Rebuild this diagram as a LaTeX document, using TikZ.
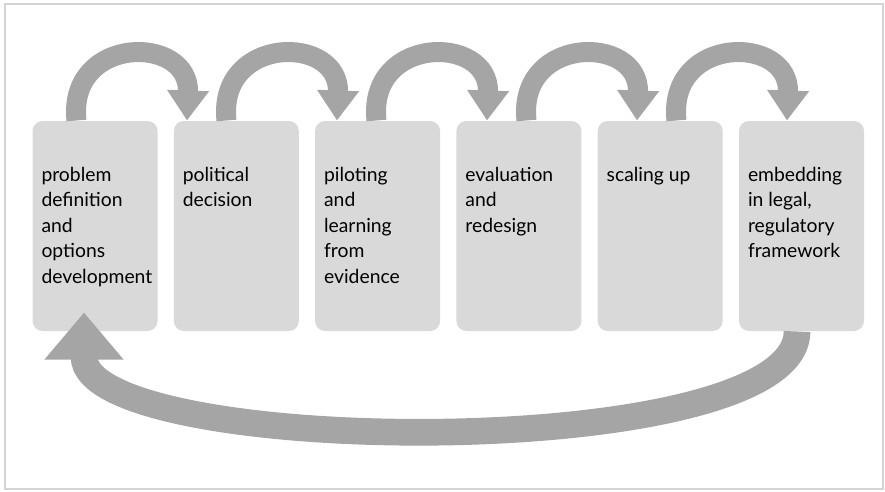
\documentclass[tikz,border=0pt]{standalone}
\usepackage{fontspec}
\setmainfont{Lato}
\usetikzlibrary{arrows.meta,calc}

\definecolor{framegray}{RGB}{212,212,212}
\definecolor{stagegray}{RGB}{217,217,217}
\definecolor{loopgray}{RGB}{165,165,165}

\tikzset{every picture/.style={line width=0.75pt}}
\tikzset{
	stage/.style={fill=stagegray, rounded corners=7.5pt, minimum width=93.75pt, minimum height=157.5pt, inner sep=0pt, font=\fontsize{14.5}{19.1}\selectfont},
	loop arrow/.style={draw=loopgray, line width=15pt, -{Triangle[width=30pt,length=22.5pt]}},
	return arrow/.style={draw=loopgray, line width=20pt, -{Triangle[width=57pt,length=35.25pt]}},
}
% text block of a stage, hung from the top of the box
\newcommand{\stagetext}[1]{\parbox[c][157.5pt][t]{93.75pt}{\raggedright\leftskip=6.75pt\relax\vspace*{34.5pt}#1}}

\begin{document}
\begin{tikzpicture}[x=0.75pt,y=0.75pt,yscale=-1,xscale=1]
	\useasboundingbox (0,0) rectangle (885,492);
	%Shape: Rectangle [frame]
	\draw [framegray, line width=1.5pt] (4.5,4.5) rectangle (883,488.5);
	%Shape: Stages
	\node [stage] (b1) at (95,226) {\stagetext{problem\\definition\\and\\options\\development}};
	\node [stage] (b2) at (236.3,226) {\stagetext{political\\decision}};
	\node [stage] (b3) at (377.6,226) {\stagetext{piloting\\and\\learning\\from\\evidence}};
	\node [stage] (b4) at (518.9,226) {\stagetext{evaluation\\and\\redesign}};
	\node [stage] (b5) at (660.2,226) {\stagetext{scaling up}};
	\node [stage] (b6) at (801.5,226) {\stagetext{embedding\\in legal,\\regulatory\\framework}};
	%Curve Lines [loops over the tops]
	\foreach \i/\j in {1/2,2/3,3/4,4/5,5/6}
		\draw [loop arrow] ($(b\i.north)+({-27.2+8.7*\i},0)$) to [out=-96,in=-88,looseness=2] ($(b\j.north)+({-58+8.7*\i},0)$);
	%Curve Lines [back to the start]
	\draw [return arrow] ($(b6.south)+(-4.5,0)$) .. controls +(0,133) and +(0,146) .. ($(b1.south)+(-11,-19)$);
\end{tikzpicture}
\end{document}
